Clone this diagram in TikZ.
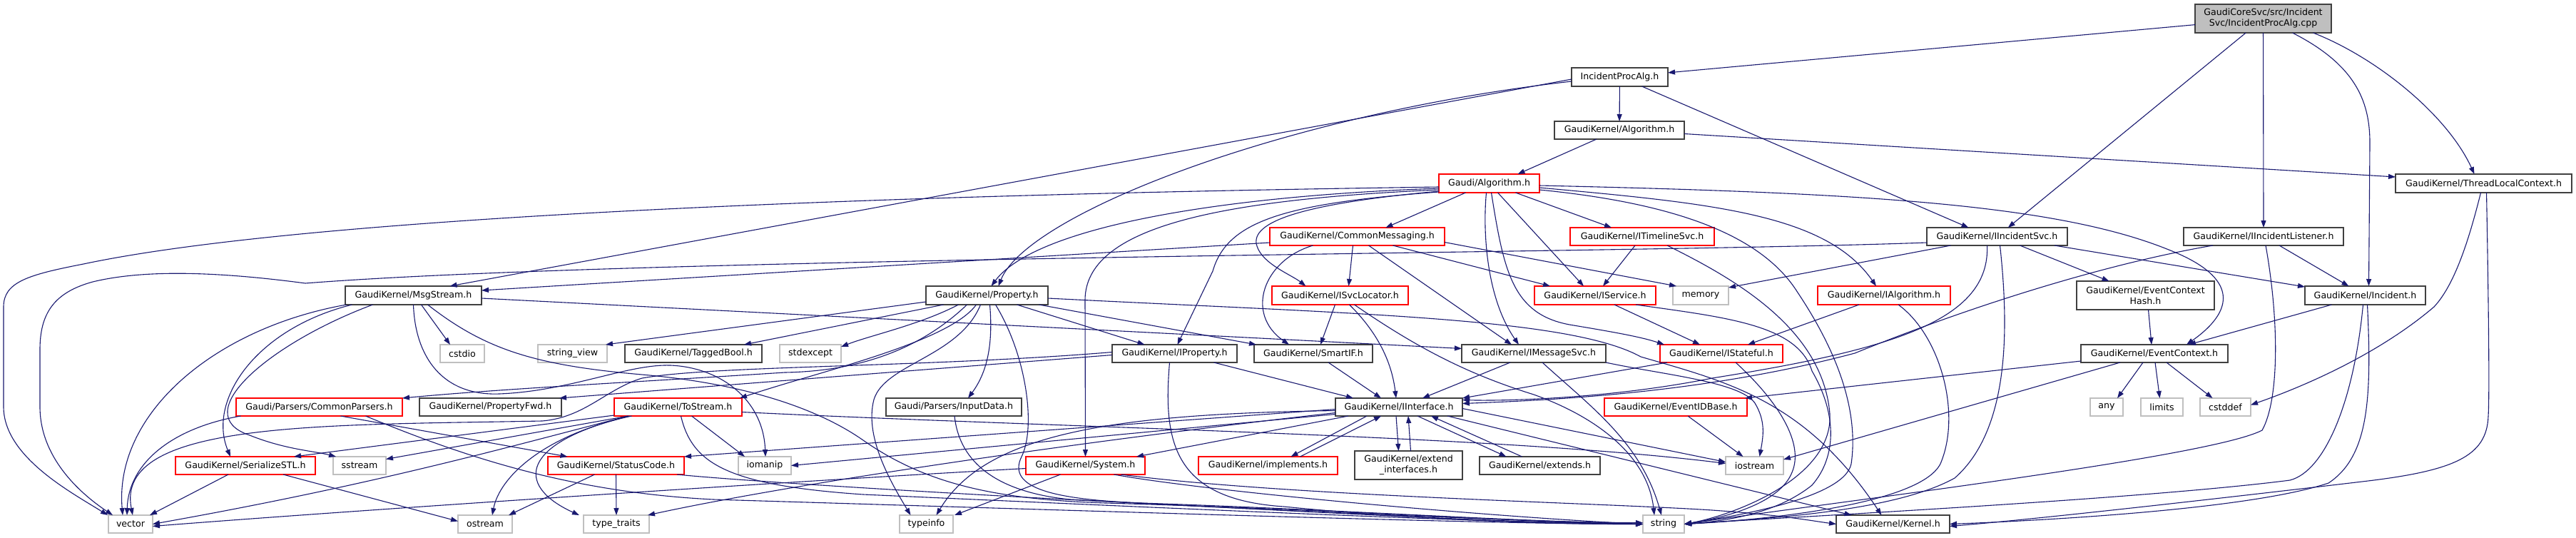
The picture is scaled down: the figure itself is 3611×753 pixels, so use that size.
\documentclass[tikz,border=0pt]{standalone}
\usepackage{fontspec}
\setmainfont{DejaVu Sans}
\usetikzlibrary{arrows.meta}
\definecolor{edgec}{HTML}{191970}
\definecolor{nbord}{HTML}{404040}
\definecolor{gbord}{HTML}{BFBFBF}
\definecolor{rbord}{HTML}{FF0000}
\newcommand{\fs}{\fontsize{12.6pt}{15pt}\selectfont}
\newcommand{\nd}[7]{\node[#6, minimum width={(#3-#2)*1pt}, minimum height={(#5-#4)*1pt}] (#1) at ({(#2+#3)/2},{(#4+#5)/2}) {#7};}
\tikzset{
  nbox/.style={rectangle, draw=nbord, fill=white, line width=1.2pt, inner sep=1pt, outer sep=0pt, font=\fs, align=center},
  rbox/.style={nbox, draw=rbord},
  gbox/.style={nbox, draw=gbord},
  tbox/.style={nbox, fill=gbord},
  edg/.style={draw=edgec, line width=1.1pt, -{Triangle[length=10pt,width=7pt]}}
}
\begin{document}
\begin{tikzpicture}[x=1pt,y=-1pt]
\path[use as bounding box, fill=white] (0,0) rectangle (3611,753);
% nodes
\nd{root}{3077}{3268}{6}{46}{tbox}{GaudiCoreSvc/src/Incident\\Svc/IncidentProcAlg.cpp}
\nd{ipa}{2203}{2338}{95}{121}{nbox}{IncidentProcAlg.h}
\nd{kalg}{2179}{2361}{170}{195}{nbox}{GaudiKernel/Algorithm.h}
\nd{galg}{2017}{2158}{244}{270}{rbox}{Gaudi/Algorithm.h}
\nd{tlc}{3358}{3605}{244}{270}{nbox}{GaudiKernel/ThreadLocalContext.h}
\nd{cmsg}{1780}{2025}{319}{344}{rbox}{GaudiKernel/CommonMessaging.h}
\nd{tml}{2201}{2403}{319}{344}{rbox}{GaudiKernel/ITimelineSvc.h}
\nd{iis}{2701}{2898}{319}{344}{nbox}{GaudiKernel/IIncidentSvc.h}
\nd{iil}{3061}{3285}{319}{344}{nbox}{GaudiKernel/IIncidentListener.h}
\nd{msg}{484}{675}{401}{427}{nbox}{GaudiKernel/MsgStream.h}
\nd{prop}{1298}{1469}{401}{427}{nbox}{GaudiKernel/Property.h}
\nd{isl}{1783}{1974}{401}{427}{rbox}{GaudiKernel/ISvcLocator.h}
\nd{isvc}{2151}{2321}{401}{427}{rbox}{GaudiKernel/IService.h}
\nd{memory}{2345}{2423}{401}{427}{gbox}{memory}
\nd{ialg}{2548}{2734}{401}{427}{rbox}{GaudiKernel/IAlgorithm.h}
\nd{ech}{2911}{3104}{394}{434}{nbox}{GaudiKernel/EventContext\\Hash.h}
\nd{inc}{3231}{3400}{401}{427}{nbox}{GaudiKernel/Incident.h}
\nd{cstdio}{617}{679}{483}{508}{gbox}{cstdio}
\nd{sview}{754}{851}{483}{508}{gbox}{string\_view}
\nd{tbool}{876}{1068}{483}{508}{nbox}{GaudiKernel/TaggedBool.h}
\nd{stdexc}{1093}{1179}{483}{508}{gbox}{stdexcept}
\nd{iprop}{1559}{1734}{483}{508}{nbox}{GaudiKernel/IProperty.h}
\nd{smart}{1758}{1924}{483}{508}{nbox}{GaudiKernel/SmartIF.h}
\nd{imsg}{2049}{2251}{483}{508}{nbox}{GaudiKernel/IMessageSvc.h}
\nd{istat}{2327}{2499}{483}{508}{rbox}{GaudiKernel/IStateful.h}
\nd{ectx}{2917}{3123}{483}{508}{nbox}{GaudiKernel/EventContext.h}
\nd{cpars}{331}{564}{558}{583}{rbox}{Gaudi/Parsers/CommonParsers.h}
\nd{pfwd}{588}{787}{558}{583}{nbox}{GaudiKernel/PropertyFwd.h}
\nd{tostr}{861}{1040}{558}{583}{rbox}{GaudiKernel/ToStream.h}
\nd{indata}{1242}{1432}{558}{583}{nbox}{Gaudi/Parsers/InputData.h}
\nd{iint}{1872}{2050}{558}{583}{nbox}{GaudiKernel/IInterface.h}
\nd{eidb}{2249}{2449}{558}{583}{rbox}{GaudiKernel/EventIDBase.h}
\nd{any}{2930}{2976}{558}{583}{gbox}{any}
\nd{limits}{3001}{3060}{558}{583}{gbox}{limits}
\nd{cstddef}{3084}{3155}{558}{583}{gbox}{cstddef}
\nd{sstl}{246}{442}{640}{665}{rbox}{GaudiKernel/SerializeSTL.h}
\nd{sstream}{467}{541}{640}{665}{gbox}{sstream}
\nd{status}{768}{959}{640}{665}{rbox}{GaudiKernel/StatusCode.h}
\nd{iomanip}{1035}{1109}{640}{665}{gbox}{iomanip}
\nd{system}{1438}{1605}{640}{665}{rbox}{GaudiKernel/System.h}
\nd{impl}{1680}{1875}{640}{665}{rbox}{GaudiKernel/implements.h}
\nd{extif}{1899}{2050}{632}{672}{nbox}{GaudiKernel/extend\\\_interfaces.h}
\nd{extends}{2074}{2243}{640}{665}{nbox}{GaudiKernel/extends.h}
\nd{iostream}{2419}{2500}{640}{665}{gbox}{iostream}
\nd{vector}{152}{214}{722}{747}{gbox}{vector}
\nd{ostream}{642}{718}{722}{747}{gbox}{ostream}
\nd{ttraits}{818}{910}{722}{747}{gbox}{type\_traits}
\nd{typeinfo}{1261}{1336}{722}{747}{gbox}{typeinfo}
\nd{string}{2303}{2361}{722}{747}{gbox}{string}
\nd{kernel}{2574}{2733}{722}{747}{nbox}{GaudiKernel/Kernel.h}
% root
\draw[edg] (root) -- (ipa);
\draw[edg] (root) -- (iis);
\draw[edg] (root.south) -- (iil.north);
\draw[edg] ([xshift=41pt]root.south) .. controls (3300,90) and (3322,140) .. (3322,200) -- ([xshift=5pt]inc.north);
\draw[edg] ([xshift=70pt]root.south) .. controls (3330,80) and (3430,160) .. ([xshift=-13pt]tlc.north);
% ipa
\draw[edg] (ipa) -- (kalg);
\draw[edg] ([xshift=31pt]ipa.south) -- ([xshift=-40pt]iis.north);
\draw[edg] ([yshift=-3pt]ipa.west) -- ([xshift=51pt]msg.north);
\draw[edg] ([yshift=-6pt]ipa.west) .. controls (1800,160) and (1440,300) .. ([xshift=16pt]prop.north);
% kalg
\draw[edg] ([xshift=-32pt]kalg.south) -- ([xshift=40pt]galg.north);
\draw[edg] ([yshift=-5pt]kalg.east) -- ([yshift=9pt]tlc.west);
% galg
\draw[edg] ([xshift=-33pt]galg.south) -- ([xshift=40pt]cmsg.north);
\draw[edg] ([xshift=37pt]galg.south) -- ([xshift=-43pt]tml.north);
\draw[edg] ([xshift=12pt]galg.south) -- ([xshift=-16pt]isvc.north);
\draw[edg] ([xshift=-4pt]galg.south) .. controls (2078,330) and (2085,420) .. ([xshift=-21pt]imsg.north);
\draw[edg] ([xshift=3pt]galg.south) .. controls (2108,380) and (2120,440) .. (2200,455) .. controls (2260,465) and (2300,472) .. ([xshift=6pt]istat.north west);
\draw[edg] ([yshift=-7pt]galg.west) .. controls (1700,275) and (1450,320) .. ([xshift=6pt]prop.north);
\draw[edg] ([yshift=-9pt]galg.west) .. controls (1700,280) and (1522,320) .. (1521,420) -- (system.north);
\draw[edg] ([yshift=-11pt]galg.west) .. controls (1830,285) and (1750,310) .. (1762,345) .. controls (1770,370) and (1810,385) .. ([xshift=-48pt]isl.north);
\draw[edg] ([yshift=-12pt]galg.west) .. controls (1800,285) and (1720,310) .. (1700,380) -- ([xshift=4pt]iprop.north);
\draw[edg] ([yshift=-5pt]galg.west) .. controls (1100,275) and (400,310) .. (117,370) .. controls (40,385) and (5,395) .. (5,430) -- (5,570) .. controls (5,640) and (100,690) .. ([xshift=-1pt]vector.north west);
\draw[edg] ([yshift=-6pt]galg.east) .. controls (2400,285) and (2560,300) .. ([xshift=-11pt]ialg.north);
\draw[edg] ([yshift=-9pt]galg.east) .. controls (2350,285) and (2470,330) .. (2520,410) .. controls (2580,500) and (2605,580) .. (2595,650) .. controls (2585,700) and (2420,725) .. (string.east);
\draw[edg] ([yshift=-3pt]galg.east) .. controls (2600,270) and (2880,285) .. (3040,350) .. controls (3130,385) and (3140,430) .. ([xshift=45pt]ectx.north);
% cmsg
\draw[edg] ([yshift=-8.5pt]cmsg.west) -- ([yshift=7pt]msg.east);
\draw[edg] ([xshift=-62pt]cmsg.south) .. controls (1770,365) and (1745,440) .. ([xshift=-34pt]smart.north);
\draw[edg] ([xshift=-6pt]cmsg.south) -- ([xshift=12pt]isl.north);
\draw[edg] ([xshift=16pt]cmsg.south) -- ([xshift=-31pt]imsg.north);
\draw[edg] ([xshift=50pt]cmsg.south) -- ([xshift=-63pt]isvc.north);
\draw[edg] ([yshift=-8pt]cmsg.east) -- ([xshift=5pt]memory.north west);
% tml
\draw[edg] ([xshift=-10pt]tml.south) -- ([xshift=11pt]isvc.north);
\draw[edg] ([xshift=35pt]tml.south) .. controls (2430,390) and (2555,460) .. (2565,580) .. controls (2570,670) and (2430,722) .. (string.east);
% iis
\draw[edg] ([yshift=4pt]iis.south west) .. controls (2300,355) and (900,360) .. (428,397) .. controls (300,380) and (200,378) .. (130,395) .. controls (75,410) and (56,440) .. (56,490) -- (56,570) .. controls (56,640) and (110,690) .. ([xshift=6pt]vector.north west);
\draw[edg] ([xshift=-65pt]iis.south) -- ([yshift=11pt]memory.east);
\draw[edg] ([xshift=-14pt]iis.south) .. controls (2790,450) and (2650,490) .. (2400,530) .. controls (2250,560) and (2100,562) .. ([yshift=10pt]iint.east);
\draw[edg] ([xshift=4pt]iis.south) .. controls (2815,450) and (2820,600) .. (2740,670) .. controls (2650,720) and (2450,728) .. (string.east);
\draw[edg] ([xshift=32pt]iis.south) -- ([xshift=-51pt]ech.north);
\draw[edg] ([xshift=-18pt]iis.south east) -- ([yshift=12pt]inc.west);
% iil
\draw[edg] ([xshift=-71pt]iil.south) .. controls (2950,370) and (2760,430) .. (2600,495) .. controls (2400,548) and (2200,560) .. ([yshift=5pt]iint.east);
\draw[edg] ([xshift=22pt]iil.south) -- ([xshift=-23pt]inc.north);
\draw[edg] ([xshift=3pt]iil.south) .. controls (3195,450) and (3195,560) .. (3171,603) .. controls (3100,640) and (2600,700) .. (string.east);
% inc
\draw[edg] ([xshift=-47pt]inc.south) -- ([xshift=48pt]ectx.north);
\draw[edg] ([xshift=-3pt]inc.south) .. controls (3300,560) and (3260,660) .. (3210,673) .. controls (3000,700) and (2500,725) .. (string.east);
\draw[edg] ([xshift=3pt]inc.south) .. controls (3325,560) and (3320,640) .. (3264,677) .. controls (3150,715) and (2850,730) .. (kernel.east);
% tlc
\draw[edg] ([xshift=-4pt]tlc.south) .. controls (3460,340) and (3440,400) .. (3412,430) .. controls (3330,500) and (3220,545) .. ([yshift=3pt]cstddef.east);
\draw[edg] ([xshift=4pt]tlc.south) .. controls (3488,400) and (3490,550) .. (3488,583) .. controls (3486,640) and (3440,660) .. (3311,675) .. controls (3100,700) and (2850,728) .. ([yshift=-3pt]kernel.east);
% ech, ectx, eidb
\draw[edg] ([xshift=4pt]ech.south) -- ([xshift=-4pt]ectx.north);
\draw[edg] ([yshift=2pt]ectx.south west) -- ([xshift=-3pt]eidb.north east);
\draw[edg] ([xshift=55pt]ectx.south west) -- ([yshift=-4pt]iostream.north east);
\draw[edg] ([xshift=-16pt]ectx.south) -- ([xshift=15pt]any.north);
\draw[edg] ([xshift=1pt]ectx.south) -- ([xshift=-3pt]limits.north);
\draw[edg] ([xshift=17pt]ectx.south) -- ([xshift=-18pt]cstddef.north);
\draw[edg] ([xshift=17pt]eidb.south) -- ([xshift=-16pt]iostream.north);
% msg
\draw[edg] ([yshift=-4pt]msg.east) -- ([yshift=7pt]imsg.west);
\draw[edg] ([xshift=11pt]msg.south) -- ([xshift=-17pt]cstdio.north);
\draw[edg] ([xshift=-94pt]msg.south) .. controls (300,460) and (160,580) .. ([xshift=-11pt]vector.north);
\draw[edg] ([xshift=-86pt]msg.south) .. controls (360,460) and (290,560) .. ([xshift=-21pt]sstl.north);
\draw[edg] ([xshift=-57pt]msg.south) .. controls (380,480) and (260,580) .. (350,610) .. controls (400,630) and (440,632) .. ([xshift=4pt]sstream.north west);
\draw[edg] (msg.south) .. controls (582,500) and (620,555) .. (700,552) .. controls (800,548) and (880,510) .. (940,512) .. controls (1010,515) and (1070,560) .. ([xshift=1pt]iomanip.north);
\draw[edg] ([xshift=20pt]msg.south) .. controls (680,490) and (750,512) .. (900,525) .. controls (1050,538) and (1150,575) .. (1210,617) .. controls (1300,680) and (1400,700) .. (1550,705) .. controls (1900,715) and (2150,733) .. (string.west);
% sstl, cpars
\draw[edg] ([xshift=-24pt]sstl.south) -- ([xshift=-4pt]vector.north east);
\draw[edg] ([xshift=53pt]sstl.south) -- ([yshift=4pt]ostream.west);
\draw[edg] ([xshift=-110pt]cpars.south) .. controls (240,600) and (180,650) .. ([xshift=-5pt]vector.north);
\draw[edg] ([xshift=30pt]cpars.south) -- ([xshift=-68pt]status.north);
\draw[edg] ([xshift=65pt]cpars.south) .. controls (650,640) and (800,690) .. (1000,700) .. controls (1500,715) and (2100,735) .. (string.west);
% prop
\draw[edg] ([yshift=4pt]prop.south west) -- ([xshift=-2pt]sview.north east);
\draw[edg] ([xshift=-61pt]prop.south) -- ([xshift=71pt]tbool.north);
\draw[edg] ([xshift=-40pt]prop.south) .. controls (1290,455) and (1220,470) .. ([yshift=-3pt]stdexc.north east);
\draw[edg] ([xshift=-28pt]prop.south) .. controls (1300,480) and (1220,520) .. (1100,522) .. controls (900,535) and (700,545) .. (cpars.north east);
\draw[edg] ([xshift=-15pt]prop.south) .. controls (1330,480) and (1150,520) .. ([xshift=-3pt]tostr.north east);
\draw[edg] ([xshift=42pt]prop.south) -- ([xshift=-42pt]iprop.north);
\draw[edg] ([xshift=73pt]prop.south) -- ([xshift=3pt]smart.north west);
\draw[edg] ([xshift=4pt]prop.south) .. controls (1392,480) and (1385,520) .. ([xshift=20pt]indata.north);
\draw[edg] ([xshift=-9pt]prop.south) .. controls (1345,500) and (1240,510) .. (1225,560) .. controls (1212,610) and (1245,670) .. ([xshift=-22pt]typeinfo.north);
\draw[edg] ([xshift=12pt]prop.south) .. controls (1440,500) and (1452,600) .. (1432,640) .. controls (1410,685) and (1480,700) .. (1600,705) .. controls (1900,715) and (2150,733) .. ([yshift=2pt]string.west);
\draw[edg] ([yshift=-4pt]prop.east) .. controls (1900,440) and (2200,445) .. (2300,500) .. controls (2420,535) and (2530,560) .. ([xshift=-16pt]kernel.north);
% iprop
\draw[edg] ([yshift=-2pt]iprop.west) -- ([xshift=-3pt]pfwd.north east);
\draw[edg] ([yshift=2pt]iprop.west) .. controls (1300,515) and (1000,512) .. (900,530) .. controls (850,545) and (820,585) .. (760,590) .. controls (450,596) and (160,590) .. ([xshift=3pt]vector.north);
\draw[edg] ([xshift=55pt]iprop.south) -- ([xshift=-64pt]iint.north);
\draw[edg] ([xshift=-7pt]iprop.south) .. controls (1630,620) and (1645,700) .. (1800,710) .. controls (2000,730) and (2200,735) .. (string.west);
% smart, isl, isvc, ialg, imsg, istat
\draw[edg] ([xshift=21pt]smart.south) -- ([xshift=-25pt]iint.north);
\draw[edg] ([xshift=-7pt]isl.south) -- ([xshift=10pt]smart.north);
\draw[edg] ([xshift=13pt]isl.south) .. controls (1925,460) and (1950,500) .. ([xshift=-4pt]iint.north);
\draw[edg] ([xshift=20pt]isl.south) .. controls (1990,490) and (2060,525) .. (2150,553) .. controls (2240,585) and (2310,640) .. ([xshift=-13pt]string.north);
\draw[edg] ([xshift=27pt]isvc.south) -- ([xshift=-30pt]istat.north);
\draw[edg] ([xshift=57pt]isvc.south) .. controls (2420,445) and (2520,455) .. (2540,520) .. controls (2575,580) and (2575,640) .. (2540,680) .. controls (2490,720) and (2420,730) .. (string.east);
\draw[edg] ([xshift=-35pt]ialg.south) -- ([xshift=37pt]istat.north);
\draw[edg] ([xshift=20pt]ialg.south) .. controls (2720,470) and (2750,580) .. (2720,650) .. controls (2690,710) and (2450,730) .. (string.east);
\draw[edg] ([xshift=-33pt]imsg.south) -- ([xshift=33pt]iint.north);
\draw[edg] ([xshift=12pt]imsg.south) .. controls (2230,570) and (2300,620) .. ([xshift=-3pt]string.north);
\draw[edg] (imsg.south east) .. controls (2330,525) and (2440,535) .. (2460,565) .. controls (2475,590) and (2472,610) .. ([xshift=7pt]iostream.north);
\draw[edg] ([xshift=10pt]istat.south west) -- (iint.north east);
\draw[edg] ([xshift=-66pt]istat.south east) .. controls (2490,560) and (2530,620) .. (2512,662) .. controls (2495,705) and (2420,725) .. (string.east);
% iint
\draw[edg] ([xshift=-45pt]iint.south) -- ([xshift=32pt]impl.north);
\draw[edg] ([xshift=45pt]impl.north) -- ([xshift=-25pt]iint.south);
\draw[edg] ([xshift=-4pt]iint.south) -- ([xshift=-14pt]extif.north);
\draw[edg] ([xshift=3pt]extif.north) -- ([xshift=13pt]iint.south);
\draw[edg] ([xshift=26pt]iint.south) -- ([xshift=-47pt]extends.north);
\draw[edg] ([xshift=-25pt]extends.north) -- ([xshift=45pt]iint.south);
\draw[edg] ([xshift=68pt]iint.south) -- ([xshift=-58pt]kernel.north);
\draw[edg] ([yshift=-2pt]iint.east) -- ([yshift=5pt]iostream.west);
\draw[edg] ([yshift=-3pt]iint.west) -- (status.north east);
\draw[edg] ([xshift=-71pt]iint.south) -- ([xshift=-12pt]system.north east);
\draw[edg] ([yshift=-5pt]iint.west) .. controls (1550,580) and (1380,610) .. ([xshift=14pt]typeinfo.north);
\draw[edg] ([yshift=-8pt]iint.west) .. controls (1500,620) and (1100,680) .. ([xshift=-2pt]ttraits.north east);
\draw[edg] ([yshift=-10pt]iint.west) -- (iomanip.east);
% tostr
\draw[edg] ([yshift=1pt]tostr.south west) -- ([xshift=-30pt]sstl.north east);
\draw[edg] ([xshift=-70pt]tostr.south) -- ([yshift=9pt]sstream.east);
\draw[edg] ([xshift=-70pt]tostr.south) .. controls (700,630) and (520,680) .. (vector.east);
\draw[edg] ([xshift=-65pt]tostr.south) .. controls (760,610) and (700,670) .. ([xshift=10pt]ostream.north);
\draw[edg] ([xshift=-68pt]tostr.south) .. controls (730,620) and (720,680) .. ([xshift=-6pt]ttraits.north west);
\draw[edg] ([xshift=19pt]tostr.south) -- ([xshift=-28pt]iomanip.north);
\draw[edg] ([xshift=4pt]tostr.south) .. controls (970,650) and (1020,680) .. (1210,693) .. controls (1700,715) and (2100,733) .. (string.west);
\draw[edg] ([yshift=-7pt]tostr.east) .. controls (1500,600) and (2100,610) .. ([yshift=3pt]iostream.west);
% status, system, indata
\draw[edg] ([xshift=-30pt]status.south) -- ([xshift=-5pt]ostream.north east);
\draw[edg] (status.south) -- (ttraits.north);
\draw[edg] ([xshift=-10pt]status.south east) .. controls (1100,680) and (1800,720) .. (string.west);
\draw[edg] ([xshift=-35pt]system.south) -- ([xshift=2pt]typeinfo.north east);
\draw[edg] ([xshift=40pt]system.south) .. controls (1700,690) and (2100,725) .. (string.west);
\draw[edg] ([xshift=50pt]system.south) .. controls (1800,695) and (2250,705) .. (2400,715) .. controls (2500,722) and (2540,730) .. (kernel.west);
\draw[edg] ([yshift=-4pt]system.west) .. controls (1100,675) and (500,715) .. ([yshift=-3pt]vector.east);
\draw[edg] ([xshift=1pt]indata.south) .. controls (1345,650) and (1400,690) .. (1500,700) .. controls (1800,715) and (2100,733) .. (string.west);
\end{tikzpicture}
\end{document}
